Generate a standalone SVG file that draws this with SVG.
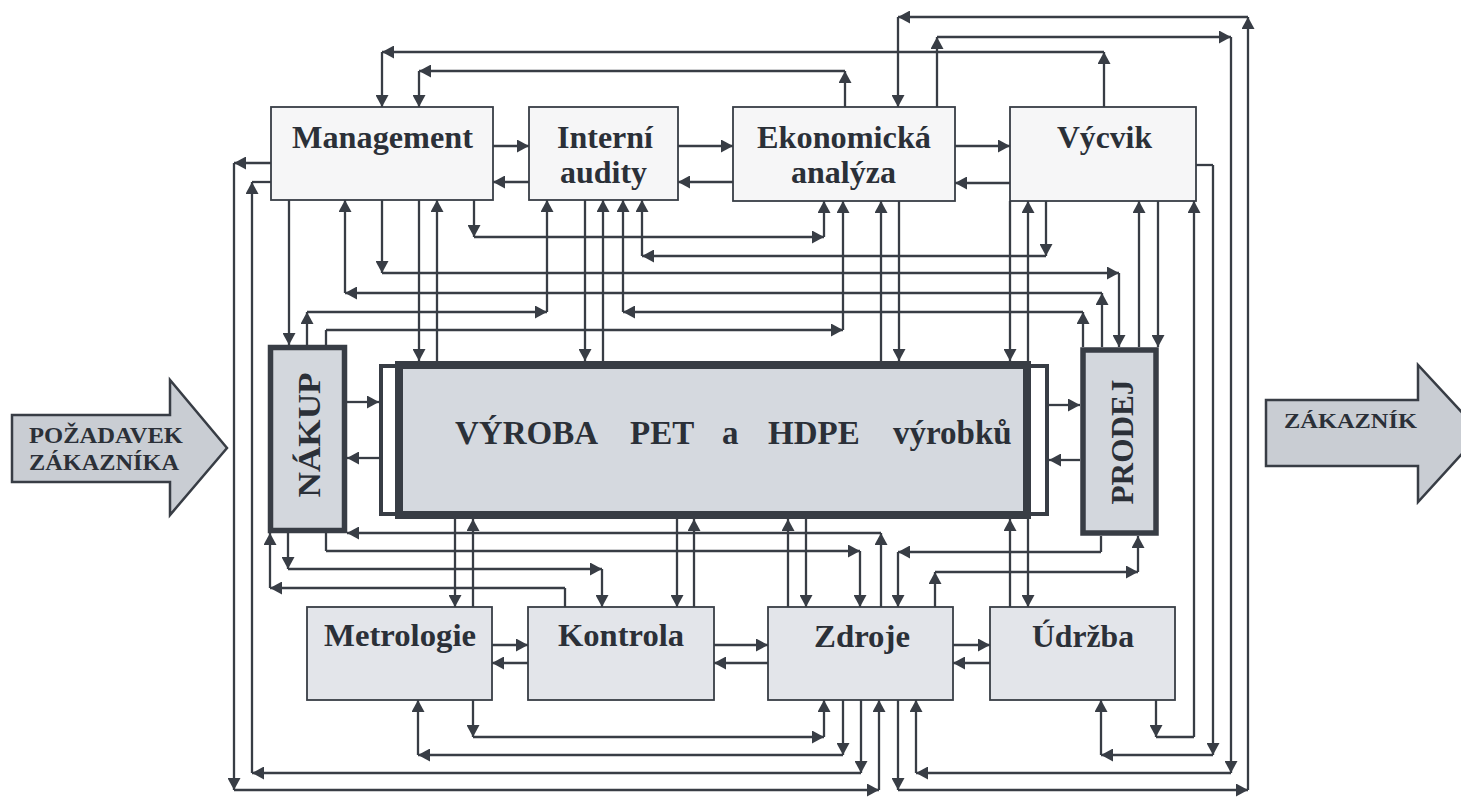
<svg xmlns="http://www.w3.org/2000/svg" width="1461" height="797" viewBox="0 0 1461 797">
<style>
.c{stroke:#383d45;stroke-width:2.3;fill:none}
.a{marker-end:url(#ah)}
.bt{fill:#f6f6f7;stroke:#383d45;stroke-width:1.8}
.bl{fill:#e3e5ea;stroke:#383d45;stroke-width:1.8}
.bk{fill:#d3d7dd;stroke:#383d45;stroke-width:5.5}
.ar{fill:#c9cdd3;stroke:#383d45;stroke-width:2.5}
.t{font-family:"Liberation Serif","Times New Roman",serif;font-weight:bold;fill:#2b3038}
</style>
<defs>
<marker id="ah" markerUnits="userSpaceOnUse" markerWidth="13" markerHeight="13" refX="12" refY="6.5" orient="auto">
<path d="M0,0 L12,6.5 L0,13 z" fill="#383d45"/>
</marker>
</defs>
<rect width="1461" height="797" fill="#ffffff"/>

<g id="connectors">
<!-- V->M -->
<line class="c a" x1="1104" y1="107" x2="1104" y2="52"/>
<line class="c a" x1="1104" y1="52" x2="382" y2="52"/>
<line class="c a" x1="382" y1="52" x2="382" y2="107"/>
<!-- E->M -->
<line class="c a" x1="845" y1="107" x2="845" y2="71"/>
<line class="c a" x1="845" y1="71" x2="419" y2="71"/>
<line class="c a" x1="419" y1="71" x2="419" y2="107"/>
<!-- Z->E -->
<line class="c a" x1="898" y1="700" x2="898" y2="790"/>
<line class="c a" x1="898" y1="790" x2="1248" y2="790"/>
<line class="c a" x1="1248" y1="790" x2="1248" y2="17"/>
<line class="c a" x1="1248" y1="17" x2="898" y2="17"/>
<line class="c a" x1="898" y1="17" x2="898" y2="107"/>
<!-- E->Z -->
<line class="c a" x1="937" y1="107" x2="937" y2="37"/>
<line class="c a" x1="937" y1="37" x2="1231" y2="37"/>
<line class="c a" x1="1231" y1="37" x2="1231" y2="773"/>
<line class="c a" x1="1231" y1="773" x2="916" y2="773"/>
<line class="c a" x1="916" y1="773" x2="916" y2="700"/>
<!-- M->Z -->
<line class="c a" x1="271" y1="163" x2="234" y2="163"/>
<line class="c a" x1="234" y1="163" x2="234" y2="790"/>
<line class="c a" x1="234" y1="790" x2="879" y2="790"/>
<line class="c a" x1="879" y1="790" x2="879" y2="700"/>
<!-- Z->M -->
<line class="c a" x1="861" y1="700" x2="861" y2="773"/>
<line class="c a" x1="861" y1="773" x2="252" y2="773"/>
<line class="c a" x1="252" y1="773" x2="252" y2="182"/>
<line class="c" x1="252" y1="182" x2="271" y2="182"/>
<!-- Me->Z -->
<line class="c a" x1="473" y1="700" x2="473" y2="737"/>
<line class="c a" x1="473" y1="737" x2="824" y2="737"/>
<line class="c a" x1="824" y1="737" x2="824" y2="700"/>
<!-- Z->Me -->
<line class="c a" x1="843" y1="700" x2="843" y2="755"/>
<line class="c a" x1="843" y1="755" x2="418" y2="755"/>
<line class="c a" x1="418" y1="755" x2="418" y2="700"/>
<!-- V->U -->
<line class="c" x1="1196" y1="165" x2="1213" y2="165"/>
<line class="c a" x1="1213" y1="165" x2="1213" y2="755"/>
<line class="c a" x1="1213" y1="755" x2="1101" y2="755"/>
<line class="c a" x1="1101" y1="755" x2="1101" y2="700"/>
<!-- U->V -->
<line class="c a" x1="1156" y1="700" x2="1156" y2="737"/>
<line class="c" x1="1156" y1="737" x2="1194" y2="737"/>
<line class="c a" x1="1194" y1="737" x2="1194" y2="201"/>
<!-- M->E -->
<line class="c a" x1="474" y1="200" x2="474" y2="237"/>
<line class="c a" x1="474" y1="237" x2="824" y2="237"/>
<line class="c a" x1="824" y1="237" x2="824" y2="201"/>
<!-- V->I -->
<line class="c a" x1="1046" y1="201" x2="1046" y2="256"/>
<line class="c a" x1="1046" y1="256" x2="642" y2="256"/>
<line class="c a" x1="642" y1="256" x2="642" y2="200"/>
<!-- M->P -->
<line class="c a" x1="382" y1="200" x2="382" y2="273"/>
<line class="c a" x1="382" y1="273" x2="1119" y2="273"/>
<line class="c a" x1="1119" y1="273" x2="1119" y2="347"/>
<!-- P->M -->
<line class="c a" x1="1102" y1="347" x2="1102" y2="293"/>
<line class="c a" x1="1102" y1="293" x2="345" y2="293"/>
<line class="c a" x1="345" y1="293" x2="345" y2="200"/>
<!-- P->I -->
<line class="c a" x1="1083" y1="347" x2="1083" y2="312"/>
<line class="c a" x1="1083" y1="312" x2="623" y2="312"/>
<line class="c a" x1="623" y1="312" x2="623" y2="200"/>
<!-- N->I -->
<line class="c a" x1="307" y1="345" x2="307" y2="312"/>
<line class="c a" x1="307" y1="312" x2="547" y2="312"/>
<line class="c a" x1="547" y1="312" x2="547" y2="200"/>
<!-- N->E -->
<line class="c" x1="326" y1="345" x2="326" y2="330"/>
<line class="c a" x1="326" y1="330" x2="843" y2="330"/>
<line class="c a" x1="843" y1="330" x2="843" y2="201"/>
<!-- verticals top -->
<line class="c a" x1="289" y1="200" x2="289" y2="345"/>
<line class="c a" x1="419" y1="200" x2="419" y2="361"/>
<line class="c a" x1="437" y1="361" x2="437" y2="200"/>
<line class="c a" x1="585" y1="200" x2="585" y2="361"/>
<line class="c a" x1="603" y1="361" x2="603" y2="200"/>
<line class="c a" x1="881" y1="361" x2="881" y2="201"/>
<line class="c a" x1="899" y1="201" x2="899" y2="361"/>
<line class="c a" x1="1010" y1="201" x2="1010" y2="361"/>
<line class="c a" x1="1028" y1="361" x2="1028" y2="201"/>
<line class="c a" x1="1139" y1="347" x2="1139" y2="201"/>
<line class="c a" x1="1158" y1="201" x2="1158" y2="347"/>
<!-- top row horizontals -->
<line class="c a" x1="493" y1="146" x2="529" y2="146"/>
<line class="c a" x1="529" y1="182" x2="493" y2="182"/>
<line class="c a" x1="678" y1="146" x2="733" y2="146"/>
<line class="c a" x1="733" y1="182" x2="678" y2="182"/>
<line class="c a" x1="955" y1="146" x2="1010" y2="146"/>
<line class="c a" x1="1010" y1="183" x2="955" y2="183"/>
<!-- middle horizontals -->
<line class="c a" x1="347" y1="402" x2="379" y2="402"/>
<line class="c a" x1="379" y1="458" x2="347" y2="458"/>
<line class="c a" x1="1049" y1="405" x2="1080" y2="405"/>
<line class="c a" x1="1080" y1="460" x2="1049" y2="460"/>
<!-- Z->N -->
<line class="c a" x1="881" y1="607" x2="881" y2="533"/>
<line class="c a" x1="881" y1="533" x2="347" y2="533"/>
<!-- N->Z -->
<line class="c" x1="326" y1="533" x2="326" y2="551"/>
<line class="c a" x1="326" y1="551" x2="860" y2="551"/>
<line class="c a" x1="860" y1="551" x2="860" y2="607"/>
<!-- N->K -->
<line class="c a" x1="288" y1="533" x2="288" y2="569"/>
<line class="c a" x1="288" y1="569" x2="602" y2="569"/>
<line class="c a" x1="602" y1="569" x2="602" y2="607"/>
<!-- K->N -->
<line class="c" x1="565" y1="607" x2="565" y2="588"/>
<line class="c a" x1="565" y1="588" x2="270" y2="588"/>
<line class="c a" x1="270" y1="588" x2="270" y2="533"/>
<!-- P->Z -->
<line class="c" x1="1101" y1="536" x2="1101" y2="552"/>
<line class="c a" x1="1101" y1="552" x2="898" y2="552"/>
<line class="c a" x1="898" y1="552" x2="898" y2="607"/>
<!-- Z->P -->
<line class="c a" x1="935" y1="607" x2="935" y2="572"/>
<line class="c a" x1="935" y1="572" x2="1138" y2="572"/>
<line class="c a" x1="1138" y1="572" x2="1138" y2="536"/>
<!-- verticals bottom -->
<line class="c a" x1="455" y1="519" x2="455" y2="607"/>
<line class="c a" x1="473" y1="607" x2="473" y2="519"/>
<line class="c a" x1="677" y1="519" x2="677" y2="607"/>
<line class="c a" x1="694" y1="607" x2="694" y2="519"/>
<line class="c a" x1="788" y1="607" x2="788" y2="519"/>
<line class="c a" x1="806" y1="519" x2="806" y2="607"/>
<line class="c a" x1="1010" y1="607" x2="1010" y2="519"/>
<line class="c a" x1="1028" y1="519" x2="1028" y2="607"/>
<!-- bottom row horizontals -->
<line class="c a" x1="492" y1="645" x2="528" y2="645"/>
<line class="c a" x1="528" y1="663" x2="492" y2="663"/>
<line class="c a" x1="714" y1="645" x2="768" y2="645"/>
<line class="c a" x1="768" y1="663" x2="714" y2="663"/>
<line class="c a" x1="953" y1="645" x2="990" y2="645"/>
<line class="c a" x1="990" y1="663" x2="953" y2="663"/>
</g>

<g id="pozadavek">
<polygon class="ar" points="12,415 170,415 170,380 227,448 170,515 170,482 12,482"/>
<text class="t" x="29" y="443" font-size="23" textLength="154" lengthAdjust="spacingAndGlyphs">POŽADAVEK</text>
<text class="t" x="29" y="470" font-size="23" textLength="150" lengthAdjust="spacingAndGlyphs">ZÁKAZNÍKA</text>
</g>
<g id="zakaznik">
<polygon class="ar" points="1266,400 1418,400 1418,365 1481,433 1418,502 1418,466 1266,466"/>
<text class="t" x="1284" y="428" font-size="22" textLength="133" lengthAdjust="spacingAndGlyphs">ZÁKAZNÍK</text>
</g>

<g id="management">
<rect class="bt" x="271" y="107" width="222" height="93"/>
<text class="t" x="292" y="148" font-size="32" textLength="181" lengthAdjust="spacingAndGlyphs">Management</text>
</g>
<g id="interni-audity">
<rect class="bt" x="529" y="107" width="149" height="93"/>
<text class="t" x="557" y="148" font-size="32" textLength="96" lengthAdjust="spacingAndGlyphs">Interní</text>
<text class="t" x="560" y="183" font-size="32" textLength="87" lengthAdjust="spacingAndGlyphs">audity</text>
</g>
<g id="ekonomicka-analyza">
<rect class="bt" x="733" y="107" width="222" height="94"/>
<text class="t" x="757" y="148" font-size="32" textLength="174" lengthAdjust="spacingAndGlyphs">Ekonomická</text>
<text class="t" x="791" y="183" font-size="32" textLength="105" lengthAdjust="spacingAndGlyphs">analýza</text>
</g>
<g id="vycvik">
<rect class="bt" x="1010" y="107" width="186" height="94"/>
<text class="t" x="1057" y="148" font-size="32" textLength="95" lengthAdjust="spacingAndGlyphs">Výcvik</text>
</g>

<g id="nakup">
<rect class="bk" x="270.5" y="347.5" width="74" height="183"/>
<text class="t" transform="translate(320,435) rotate(-90)" text-anchor="middle" font-size="32" textLength="125" lengthAdjust="spacingAndGlyphs">NÁKUP</text>
</g>
<g id="prodej">
<rect class="bk" x="1083" y="350" width="73" height="183"/>
<text class="t" transform="translate(1133,442) rotate(-90)" text-anchor="middle" font-size="32" textLength="125" lengthAdjust="spacingAndGlyphs">PRODEJ</text>
</g>
<g id="vyroba">
<rect x="381" y="366" width="666" height="148" fill="#ffffff" stroke="#383d45" stroke-width="4"/>
<rect x="399" y="365" width="628" height="150" fill="#d5d9df" stroke="#383d45" stroke-width="8"/>
<text class="t" y="444" font-size="33"><tspan x="455">VÝROBA</tspan><tspan x="630">PET</tspan><tspan x="722">a</tspan><tspan x="768">HDPE</tspan><tspan x="893">výrobků</tspan></text>
</g>

<g id="metrologie">
<rect class="bl" x="307" y="607" width="185" height="93"/>
<text class="t" x="324" y="646" font-size="32" textLength="152" lengthAdjust="spacingAndGlyphs">Metrologie</text>
</g>
<g id="kontrola">
<rect class="bl" x="528" y="607" width="186" height="93"/>
<text class="t" x="558" y="646" font-size="32" textLength="126" lengthAdjust="spacingAndGlyphs">Kontrola</text>
</g>
<g id="zdroje">
<rect class="bl" x="768" y="607" width="185" height="93"/>
<text class="t" x="814" y="647" font-size="32" textLength="96" lengthAdjust="spacingAndGlyphs">Zdroje</text>
</g>
<g id="udrzba">
<rect class="bl" x="990" y="607" width="185" height="93"/>
<text class="t" x="1032" y="647" font-size="32" textLength="102" lengthAdjust="spacingAndGlyphs">Údržba</text>
</g>
</svg>
